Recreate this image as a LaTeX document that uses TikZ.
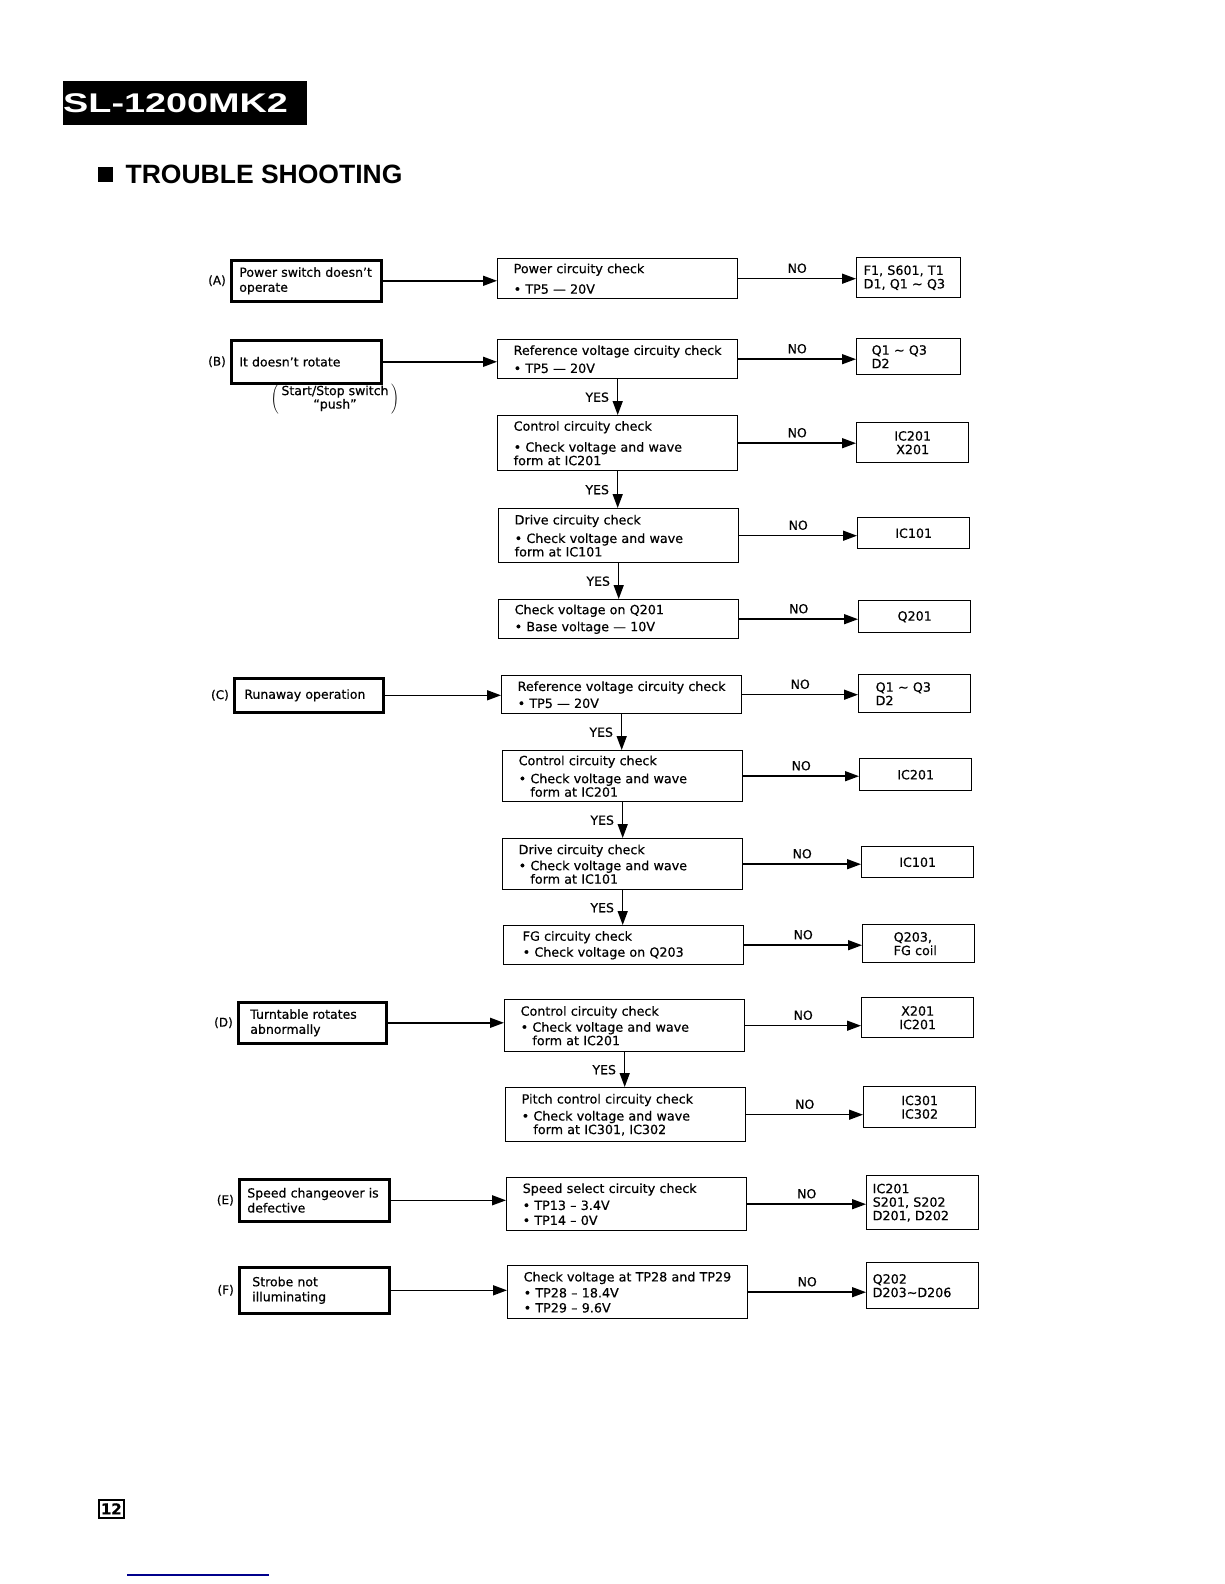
\documentclass[tikz,border=0pt]{standalone}
\usepackage{fontspec}
\setmainfont{DejaVu Sans}[FakeBold=0.5]
\newfontfamily\headfont{Liberation Sans}
\usetikzlibrary{arrows.meta,positioning}

\begin{document}
\begin{tikzpicture}[x=1pt, y=-1pt,
  symp/.style={draw, line width=2.6pt, anchor=north west, align=left,
               inner xsep=8pt, text width=134pt, font=\fontsize{12.5}{15}\selectfont},
  chk/.style={draw, line width=1.4pt, anchor=north west, align=left,
              inner xsep=16pt, text width=208pt, font=\fontsize{12.7}{13.5}\selectfont},
  res/.style={draw, line width=1.4pt, anchor=north west, align=center,
              inner xsep=6pt, text width=100pt, font=\fontsize{12.7}{13.5}\selectfont},
  tag/.style={inner sep=0pt, font=\fontsize{12}{12}\selectfont},
  lbl/.style={inner sep=0pt, font=\fontsize{12.5}{12.5}\selectfont},
  arr/.style={line width=1.5pt, -{Triangle[length=14pt,width=10pt]}}
]
  \fill[white] (0,0) rectangle (1224,1584);
  \useasboundingbox (0,0) rectangle (1224,1584);

  % heading
  \node[fill=black, text=white, anchor=north west, minimum height=44pt,
        inner xsep=0pt, text width=244pt, align=left] (hdr) at (63,81)
        {\headfont\bfseries\fontsize{27}{27}\selectfont\raisebox{-2pt}{\scalebox{1.4}[1]{SL-1200MK2}}};
  \node[fill=black, minimum size=15pt, inner sep=0pt, anchor=north west] (sq) at (98,167) {};
  \node[right=12pt of sq, inner sep=0pt,
        font=\headfont\bfseries\fontsize{26.5}{26.5}\selectfont] (ttl) {TROUBLE SHOOTING};

  % symptoms
  \node[symp, minimum height=41pt] (SA) at (230,259) {Power switch doesn't\\operate};
  \node[symp, minimum height=43pt] (SB) at (230,339) {It doesn't rotate};
  \node[symp, minimum height=34pt, inner xsep=10pt, text width=129pt] (SC) at (233,677) {Runaway operation};
  \node[symp, minimum height=41pt, inner xsep=12pt, text width=124pt] (SD) at (237,1001) {Turntable rotates\\abnormally};
  \node[symp, minimum height=42pt] (SE) at (238,1178) {Speed changeover is\\defective};
  \node[symp, minimum height=46pt, inner xsep=13pt, text width=124pt] (SF) at (238,1266) {Strobe not\\illuminating};
  \node[tag, left=4pt of SA] (tA) {(A)};
  \node[tag, left=4pt of SB] (tB) {(B)};
  \node[tag, left=4pt of SC] (tC) {(C)};
  \node[tag, left=4pt of SD] (tD) {(D)};
  \node[tag, left=4pt of SE] (tE) {(E)};
  \node[tag, left=4pt of SF] (tF) {(F)};
  \node[inner sep=0pt, font=\fontsize{12.5}{13}\selectfont] (note) at (335,399)
       {$\Bigg(\mskip4mu\vcenter{\hbox{\begin{tabular}{@{}c@{}}Start/Stop switch\\“push”\end{tabular}}}\mskip4mu\Bigg)$};

  % checks
  \node[chk, minimum height=40pt] (CA) at (497,258) {Power circuity check\\[7pt]• TP5 — 20V};
  \node[chk, minimum height=39pt] (CB1) at (497,339) {Reference voltage circuity check\\[4.5pt]• TP5 — 20V};
  \node[chk, minimum height=55pt] (CB2) at (497,415) {Control circuity check\\[7.5pt]• Check voltage and wave\\form at IC201};
  \node[chk, minimum height=54pt] (CB3) at (498,508) {Drive circuity check\\[5pt]• Check voltage and wave\\form at IC101};
  \node[chk, minimum height=39pt] (CB4) at (498,599) {Check voltage on Q201\\[3.5pt]• Base voltage — 10V};
  \node[chk, minimum height=38pt] (CC1) at (501,675) {Reference voltage circuity check\\[3.5pt]• TP5 — 20V};
  \node[chk, minimum height=51pt] (CC2) at (502,750) {Control circuity check\\[4.5pt]• Check voltage and wave\\\hphantom{• }form at IC201};
  \node[chk, minimum height=51pt] (CC3) at (502,838) {Drive circuity check\\[2.5pt]• Check voltage and wave\\\hphantom{• }form at IC101};
  \node[chk, minimum height=39pt] (CC4) at (503,925) {\hspace{3pt}FG circuity check\\[2.5pt]\hspace{3pt}• Check voltage on Q203};
  \node[chk, minimum height=52pt] (CD1) at (504,999) {Control circuity check\\[2.5pt]• Check voltage and wave\\\hphantom{• }form at IC201};
  \node[chk, minimum height=54pt] (CD2) at (505,1087) {Pitch control circuity check\\[3.5pt]• Check voltage and wave\\\hphantom{• }form at IC301, IC302};
  \node[chk, minimum height=53pt] (CE) at (506,1177) {Speed select circuity check\\[3.5pt]• TP13 – 3.4V\\[1.5pt]• TP14 – 0V};
  \node[chk, minimum height=53pt] (CF) at (507,1265) {Check voltage at TP28 and TP29\\[2.5pt]• TP28 – 18.4V\\[1.5pt]• TP29 – 9.6V};

  % parts to replace
  \node[res, minimum height=40pt, align=left, inner xsep=7pt, text width=90pt] (RA) at (856,257) {F1, S601, T1\\D1, Q1 ∼ Q3};
  \node[res, minimum height=36pt, align=left, inner xsep=15pt, text width=74pt] (RB1) at (856,338) {Q1 ∼ Q3\\D2};
  \node[res, minimum height=40pt] (RB2) at (856,422) {IC201\\X201};
  \node[res, minimum height=31pt] (RB3) at (857,517) {IC101};
  \node[res, minimum height=32pt] (RB4) at (858,600) {Q201};
  \node[res, minimum height=38pt, align=left, inner xsep=17pt, text width=78pt] (RC1) at (858,674) {Q1 ∼ Q3\\D2};
  \node[res, minimum height=32pt] (RC2) at (859,758) {IC201};
  \node[res, minimum height=31pt] (RC3) at (861,846) {IC101};
  \node[res, minimum height=38pt, align=left, inner xsep=31pt, text width=50pt] (RC4) at (862,924) {Q203,\\FG coil};
  \node[res, minimum height=40pt] (RD1) at (861,997) {X201\\IC201};
  \node[res, minimum height=41pt] (RD2) at (863,1086) {IC301\\IC302};
  \node[res, minimum height=54pt, align=left] (RE) at (866,1175) {IC201\\S201, S202\\D201, D202};
  \node[res, minimum height=46pt, align=left] (RF) at (866,1262) {Q202\\D203∼D206};

  % symptom -> check
  \draw[arr] (SA.east) -- (SA.east -| CA.west);
  \draw[arr] (SB.east) -- (SB.east -| CB1.west);
  \draw[arr] (SC.east) -- (SC.east -| CC1.west);
  \draw[arr] (SD.east) -- (SD.east -| CD1.west);
  \draw[arr] (SE.east) -- (SE.east -| CE.west);
  \draw[arr] (SF.east) -- (SF.east -| CF.west);

  % NO branches
  \draw[arr] (CA.east) -- node[lbl, above=5pt] {NO} (CA.east -| RA.west);
  \draw[arr] (CB1.east) -- node[lbl, above=5pt] {NO} (CB1.east -| RB1.west);
  \draw[arr] (CB2.east) -- node[lbl, above=5pt] {NO} (CB2.east -| RB2.west);
  \draw[arr] (CB3.east) -- node[lbl, above=5pt] {NO} (CB3.east -| RB3.west);
  \draw[arr] (CB4.east) -- node[lbl, above=5pt] {NO} (CB4.east -| RB4.west);
  \draw[arr] (CC1.east) -- node[lbl, above=5pt] {NO} (CC1.east -| RC1.west);
  \draw[arr] (CC2.east) -- node[lbl, above=5pt] {NO} (CC2.east -| RC2.west);
  \draw[arr] (CC3.east) -- node[lbl, above=5pt] {NO} (CC3.east -| RC3.west);
  \draw[arr] (CC4.east) -- node[lbl, above=5pt] {NO} (CC4.east -| RC4.west);
  \draw[arr] (CD1.east) -- node[lbl, above=5pt] {NO} (CD1.east -| RD1.west);
  \draw[arr] (CD2.east) -- node[lbl, above=5pt] {NO} (CD2.east -| RD2.west);
  \draw[arr] (CE.east) -- node[lbl, above=5pt] {NO} (CE.east -| RE.west);
  \draw[arr] (CF.east) -- node[lbl, above=5pt] {NO} (CF.east -| RF.west);

  % YES branches
  \draw[arr] (CB1.south) -- node[lbl, left=8pt] {YES} (CB1.south |- CB2.north);
  \draw[arr] (CB2.south) -- node[lbl, left=8pt] {YES} (CB2.south |- CB3.north);
  \draw[arr] (CB3.south) -- node[lbl, left=8pt] {YES} (CB3.south |- CB4.north);
  \draw[arr] (CC1.south) -- node[lbl, left=8pt] {YES} (CC1.south |- CC2.north);
  \draw[arr] (CC2.south) -- node[lbl, left=8pt] {YES} (CC2.south |- CC3.north);
  \draw[arr] (CC3.south) -- node[lbl, left=8pt] {YES} (CC3.south |- CC4.north);
  \draw[arr] (CD1.south) -- node[lbl, left=8pt] {YES} (CD1.south |- CD2.north);

  % page number
  \node[draw, line width=1.6pt, anchor=north west, inner sep=1pt, minimum width=25pt,
        minimum height=18pt, font=\bfseries\fontsize{15}{15}\selectfont] (pg) at (98,1499) {12};
  \draw[line width=1.2pt, blue!55!black] (127,1575) -- (269,1575);
\end{tikzpicture}
\end{document}
